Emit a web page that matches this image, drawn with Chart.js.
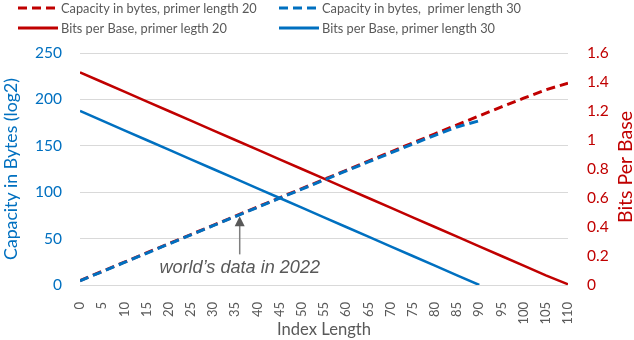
<!DOCTYPE html>
<html>
<head>
<meta charset="utf-8">
<script src="https://cdn.jsdelivr.net/npm/chart.js@4.4.0/dist/chart.umd.min.js"></script>
<style>
  html, body { margin: 0; padding: 0; background: #fff; }
  #wrap { width: 634px; height: 340px; }
</style>
</head>
<body>
<div id="wrap"><canvas id="myChart" width="634" height="340"></canvas></div>
<script>
// dados (passo de 5 no comprimento do indice)
var indexLength = [0, 5, 10, 15, 20, 25, 30, 35, 40, 45, 50, 55, 60, 65, 70, 75, 80, 85, 90, 95, 100, 105, 110];
var capacity20 = [4.8, 14.7, 24.6, 34.6, 44.5, 54.4, 64.3, 74.2, 84.1, 94.0, 103.9, 113.8, 123.6, 133.5, 143.3, 153.1, 162.9, 172.6, 182.3, 191.9, 201.3, 210.3, 217.5];
var capacity30 = [4.5, 14.4, 24.3, 34.2, 44.1, 54.0, 63.9, 73.8, 83.6, 93.5, 103.3, 113.1, 122.9, 132.6, 142.3, 151.9, 161.3, 170.3, 177.0, null, null, null, null];
var bits20 = [1.467, 1.4, 1.333, 1.267, 1.2, 1.133, 1.067, 1.0, 0.933, 0.867, 0.8, 0.733, 0.667, 0.6, 0.533, 0.467, 0.4, 0.333, 0.267, 0.2, 0.133, 0.067, 0.005];
var bits30 = [1.2, 1.133, 1.067, 1.0, 0.933, 0.867, 0.8, 0.733, 0.667, 0.6, 0.533, 0.467, 0.4, 0.333, 0.267, 0.2, 0.133, 0.067, 0.0, null, null, null, null];

// nota: dados do mundo em 2022
var noteText = 'world\u2019s data in 2022';
var noteIndex = 36;
var noteTip = 74;
var noteBase = 33;
var noteTextAt = 18;

var RED = '#C00000';
var BLUE = '#0070C0';
var GRAY = '#595959';
var DASH = [9, 5];

// ajusta o tamanho da fonte para a largura do texto no original
var measureCtx = document.createElement('canvas').getContext('2d');
function fitSize(text, width, family, style) {
  measureCtx.font = (style || '') + ' 100px ' + family;
  return Math.round(100 * width / measureCtx.measureText(text).width * 10) / 10;
}

var leftTitleSize = fitSize('Capacity in Bytes (log2)', 182, 'Lato');
var rightTitleSize = fitSize('Bits Per Base', 112, 'Lato');
var xTitleSize = fitSize('Index Length', 94, 'Lato');
var legendSize = fitSize('Capacity in bytes, primer length 20', 196, 'Lato');
var noteSize = fitSize(noteText, 161, '"Liberation Sans"', 'italic');

function pts(values) {
  var out = [];
  for (var i = 0; i < indexLength.length; i++) {
    if (values[i] !== null) out.push({ x: indexLength[i], y: values[i] });
  }
  return out;
}

var legendItems = [
  { text: 'Capacity in bytes, primer length 20', color: RED, dash: DASH, col: 0, row: 0 },
  { text: 'Capacity in bytes,  primer length 30', color: BLUE, dash: DASH, col: 1, row: 0 },
  { text: 'Bits per Base, primer legth 20', color: RED, dash: [], col: 0, row: 1 },
  { text: 'Bits per Base, primer length 30', color: BLUE, dash: [], col: 1, row: 1 }
];

// legenda em duas colunas, titulo do eixo direito e a seta
var extrasPlugin = {
  id: 'extras',
  afterDraw: function (chart) {
    var c = chart.ctx;
    var cols = [18, 279];
    var rows = [8, 28];
    c.save();
    c.font = legendSize + 'px Lato';
    c.textBaseline = 'middle';
    legendItems.forEach(function (it) {
      var x = cols[it.col], y = rows[it.row];
      c.strokeStyle = it.color;
      c.lineWidth = 3;
      c.setLineDash(it.dash);
      c.beginPath();
      c.moveTo(x, y);
      c.lineTo(x + 40, y);
      c.stroke();
      c.setLineDash([]);
      c.fillStyle = GRAY;
      c.fillText(it.text, x + 43, y + 1);
    });

    // titulo do eixo direito (de baixo para cima)
    c.save();
    c.translate(626, 167);
    c.rotate(-Math.PI / 2);
    c.textAlign = 'center';
    c.fillStyle = RED;
    c.font = rightTitleSize + 'px Lato';
    c.fillText('Bits Per Base', 0, 0);
    c.restore();

    // seta
    var xs = chart.scales.x, ys = chart.scales.y;
    var ax = xs.getPixelForValue(noteIndex);
    var tip = ys.getPixelForValue(noteTip);
    var base = ys.getPixelForValue(noteBase);
    c.strokeStyle = '#7F7F7F';
    c.lineWidth = 1.5;
    c.beginPath();
    c.moveTo(ax, base);
    c.lineTo(ax, tip + 9);
    c.stroke();
    c.fillStyle = GRAY;
    c.beginPath();
    c.moveTo(ax, tip);
    c.lineTo(ax - 5, tip + 10);
    c.lineTo(ax + 5, tip + 10);
    c.closePath();
    c.fill();

    c.font = 'italic ' + noteSize + 'px "Liberation Sans"';
    c.textAlign = 'center';
    c.fillStyle = GRAY;
    c.fillText(noteText, ax, ys.getPixelForValue(noteTextAt));
    c.restore();
  }
};

Chart.defaults.font.family = 'Lato';

var ctx = document.getElementById('myChart').getContext('2d');
var chart = new Chart(ctx, {
  type: 'line',
  data: {
    datasets: [
      { label: 'Capacity in bytes, primer length 20', data: pts(capacity20), yAxisID: 'y', borderColor: RED, borderWidth: 3, borderDash: DASH, order: 3 },
      { label: 'Capacity in bytes,  primer length 30', data: pts(capacity30), yAxisID: 'y', borderColor: BLUE, borderWidth: 3, borderDash: DASH, order: 0 },
      { label: 'Bits per Base, primer legth 20', data: pts(bits20), yAxisID: 'y2', borderColor: RED, borderWidth: 2.5, order: 2 },
      { label: 'Bits per Base, primer length 30', data: pts(bits30), yAxisID: 'y2', borderColor: BLUE, borderWidth: 2.5, order: 1 }
    ]
  },
  options: {
    responsive: false,
    animation: false,
    layout: { padding: { top: 53, left: 0, right: 0, bottom: 0 } },
    elements: { point: { radius: 0 }, line: { tension: 0, fill: false } },
    plugins: { legend: { display: false }, tooltip: { enabled: false } },
    scales: {
      x: {
        type: 'linear',
        min: 0,
        max: 110,
        afterFit: function (s) { s.height = 55; },
        grid: { display: false },
        border: { display: false },
        ticks: { stepSize: 5, minRotation: 90, maxRotation: 90, color: GRAY, font: { size: 13 }, padding: 9 },
        title: { display: true, text: 'Index Length', color: GRAY, font: { size: xTitleSize }, padding: { top: 0, bottom: 0 } }
      },
      y: {
        position: 'left',
        min: 0,
        max: 250,
        afterFit: function (s) { s.width = 80; },
        grid: { color: '#D9D9D9', lineWidth: 1, drawTicks: false },
        border: { display: false },
        ticks: { stepSize: 50, color: BLUE, font: { size: 15.5 }, padding: 18 },
        title: { display: true, text: 'Capacity in Bytes (log2)', color: BLUE, font: { size: leftTitleSize }, padding: 1 }
      },
      y2: {
        position: 'right',
        min: 0,
        max: 1.6,
        afterFit: function (s) { s.width = 66; },
        grid: { display: false, drawTicks: false },
        border: { display: false },
        ticks: {
          stepSize: 0.2,
          color: RED,
          font: { size: 15.5 },
          padding: 19,
          callback: function (v) { return String(+v.toFixed(1)); }
        }
      }
    }
  },
  plugins: [extrasPlugin]
});
</script>
</body>
</html>
